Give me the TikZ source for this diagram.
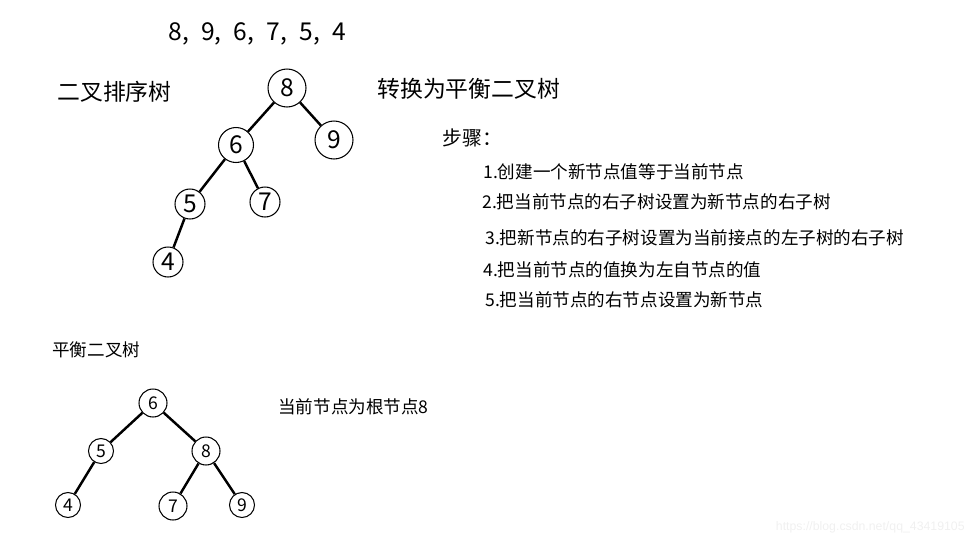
\documentclass[tikz,border=0pt]{standalone}
\usepackage{fontspec}
\setmainfont{Noto Sans CJK SC}
\newfontfamily\wmfont{Liberation Sans}
\begin{document}
\begin{tikzpicture}[x=0.02cm,y=-0.02cm,
    knot/.style={draw,circle,inner sep=0pt,line width=0.6pt},
    bigknot/.style={knot,font=\fontsize{14}{14}\selectfont},
    smallknot/.style={knot,font=\fontsize{10}{10}\selectfont},
    branch/.style={line width=1.4pt},
    txt/.style={anchor=west,inner sep=0pt},
    steptxt/.style={txt,font=\fontsize{10}{10}\selectfont}]
    \useasboundingbox (0,0) rectangle (971,542);
    \node[txt,font=\fontsize{14}{14}\selectfont] (seq) at (168,34) {8,\hspace{.5em}9,\hspace{.5em}6,\hspace{.5em}7,\hspace{.5em}5,\hspace{.5em}4};
    \node[txt,font=\fontsize{13}{13}\selectfont] (sorttree) at (57,92) {二叉排序树};
    \node[txt,font=\fontsize{13}{13}\selectfont] (convert) at (377,89) {转换为平衡二叉树};
    \node[bigknot,minimum size=0.76cm] (a8) at (287,88) {8};
    \node[bigknot,minimum size=0.76cm] (a9) at (334,140) {9};
    \node[bigknot,minimum size=0.7cm] (a6) at (236,145) {6};
    \node[bigknot,minimum size=0.6cm] (a5) at (190,204) {5};
    \node[bigknot,minimum size=0.6cm] (a7) at (265,202) {7};
    \node[bigknot,minimum size=0.6cm] (a4) at (168,262) {4};
    \draw[branch] (a8) -- (a6);
    \draw[branch] (a8) -- (a9);
    \draw[branch] (a6) -- (a5);
    \draw[branch] (a6) -- (a7);
    \draw[branch] (a5) -- (a4);
    \node[txt,font=\fontsize{11.3}{11.3}\selectfont] (steps) at (442,138) {步骤：};
    \node[steptxt] (s1) at (483,172) {1.创建一个新节点值等于当前节点};
    \node[steptxt] (s2) at (482,202) {2.把当前节点的右子树设置为新节点的右子树};
    \node[steptxt] (s3) at (485,238) {3.把新节点的右子树设置为当前接点的左子树的右子树};
    \node[steptxt] (s4) at (483,270) {4.把当前节点的值换为左自节点的值};
    \node[steptxt] (s5) at (485,300) {5.把当前节点的右节点设置为新节点};
    \node[steptxt] (avltree) at (52,350) {平衡二叉树};
    \node[steptxt] (root) at (278,407) {当前节点为根节点8};
    \node[smallknot,minimum size=0.56cm] (b6) at (153,403) {6};
    \node[smallknot,minimum size=0.5cm] (b5) at (101,451) {5};
    \node[smallknot,minimum size=0.56cm] (b8) at (206,451) {8};
    \node[smallknot,minimum size=0.5cm] (b4) at (68,505) {4};
    \node[smallknot,minimum size=0.56cm] (b7) at (173,506) {7};
    \node[smallknot,minimum size=0.5cm] (b9) at (242,505) {9};
    \draw[branch] (b6) -- (b5);
    \draw[branch] (b6) -- (b8);
    \draw[branch] (b5) -- (b4);
    \draw[branch] (b8) -- (b7);
    \draw[branch] (b8) -- (b9);
    \node[anchor=east,inner sep=0pt,text=gray!12,font=\wmfont\fontsize{7}{7}\selectfont] (mark) at (965,527) {https://blog.csdn.net/qq\_43419105};
\end{tikzpicture}
\end{document}
